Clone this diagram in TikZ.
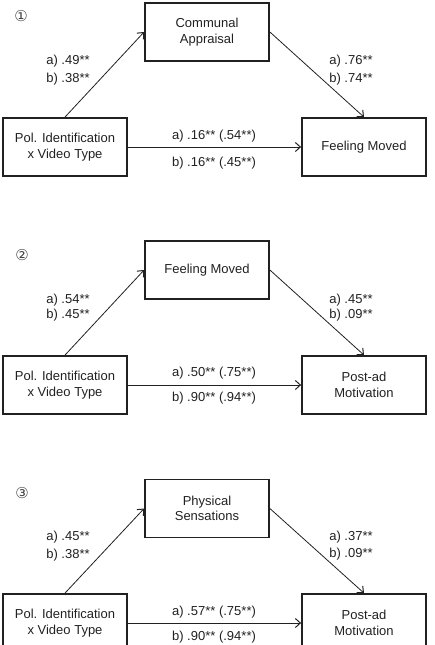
\documentclass[tikz,border=0pt]{standalone}
\usepackage{fontspec}
\setmainfont{Liberation Sans}
\newfontfamily\symfont{DejaVu Sans}
\usetikzlibrary{arrows.meta}
\definecolor{ink}{rgb}{0.13,0.13,0.13}
\tikzset{
  box/.style={draw=ink, line width=1.8pt, minimum width=124pt, minimum height=58pt, inner sep=0pt, align=center, text=ink, font=\fontsize{13}{15.5}\selectfont},
  lbl/.style={inner sep=0pt, text=ink, font=\fontsize{13}{15.5}\selectfont},
  num/.style={inner sep=0pt, text=ink!85, font=\symfont\fontsize{15}{17}\selectfont},
  arr/.style={draw=ink, line width=0.8pt, -{Straight Barb[length=5pt,width=9pt,line width=1pt]}}
}
\begin{document}
\begin{tikzpicture}[x=1pt,y=-1pt]
\useasboundingbox (0,0) rectangle (434,645);
\clip (0,0) rectangle (434,645);
% Diagram 1
\node[num] (n1) at (21,16) {①};
\node[box] (m1) at (207,32) {Communal\\Appraisal};
\node[box] (l1) at (65,147) {Pol. Identification\\x Video Type};
\node[box] (r1) at (364,147) {Feeling Moved};
\draw[arr] (l1.north) -- (m1.west);
\draw[arr] (m1.east) -- (r1.north);
\draw[arr] (l1.east) -- (r1.west);
\node[lbl] (la1) at (68,61) {a) .49**};
\node[lbl] (lb1) at (68,79) {b) .38**};
\node[lbl] (ra1) at (351,61) {a) .76**};
\node[lbl] (rb1) at (351,79) {b) .74**};
\node[lbl] (ha1) at (214,136) {a) .16** (.54**)};
\node[lbl] (hb1) at (214,163) {b) .16** (.45**)};
% Diagram 2
\node[num] (n2) at (22,255) {②};
\node[box] (m2) at (207,270) {Feeling Moved};
\node[box] (l2) at (65,385) {Pol. Identification\\x Video Type};
\node[box] (r2) at (364,385) {Post-ad\\Motivation};
\draw[arr] (l2.north) -- (m2.west);
\draw[arr] (m2.east) -- (r2.north);
\draw[arr] (l2.east) -- (r2.west);
\node[lbl] (la2) at (68,300) {a) .54**};
\node[lbl] (lb2) at (68,315) {b) .45**};
\node[lbl] (ra2) at (351,300) {a) .45**};
\node[lbl] (rb2) at (351,315) {b) .09**};
\node[lbl] (ha2) at (214,373) {a) .50** (.75**)};
\node[lbl] (hb2) at (214,398) {b) .90** (.94**)};
% Diagram 3
\node[num] (n3) at (22,493) {③};
\node[box] (m3) at (207,508.5) {Physical\\Sensations};
\node[box] (l3) at (65,623) {Pol. Identification\\x Video Type};
\node[box] (r3) at (364,623) {Post-ad\\Motivation};
\draw[arr] (l3.north) -- (m3.west);
\draw[arr] (m3.east) -- (r3.north);
\draw[arr] (l3.east) -- (r3.west);
\node[lbl] (la3) at (68,537) {a) .45**};
\node[lbl] (lb3) at (68,555) {b) .38**};
\node[lbl] (ra3) at (351,537) {a) .37**};
\node[lbl] (rb3) at (351,554) {b) .09**};
\node[lbl] (ha3) at (214,612) {a) .57** (.75**)};
\node[lbl] (hb3) at (214,637) {b) .90** (.94**)};
\end{tikzpicture}
\end{document}
